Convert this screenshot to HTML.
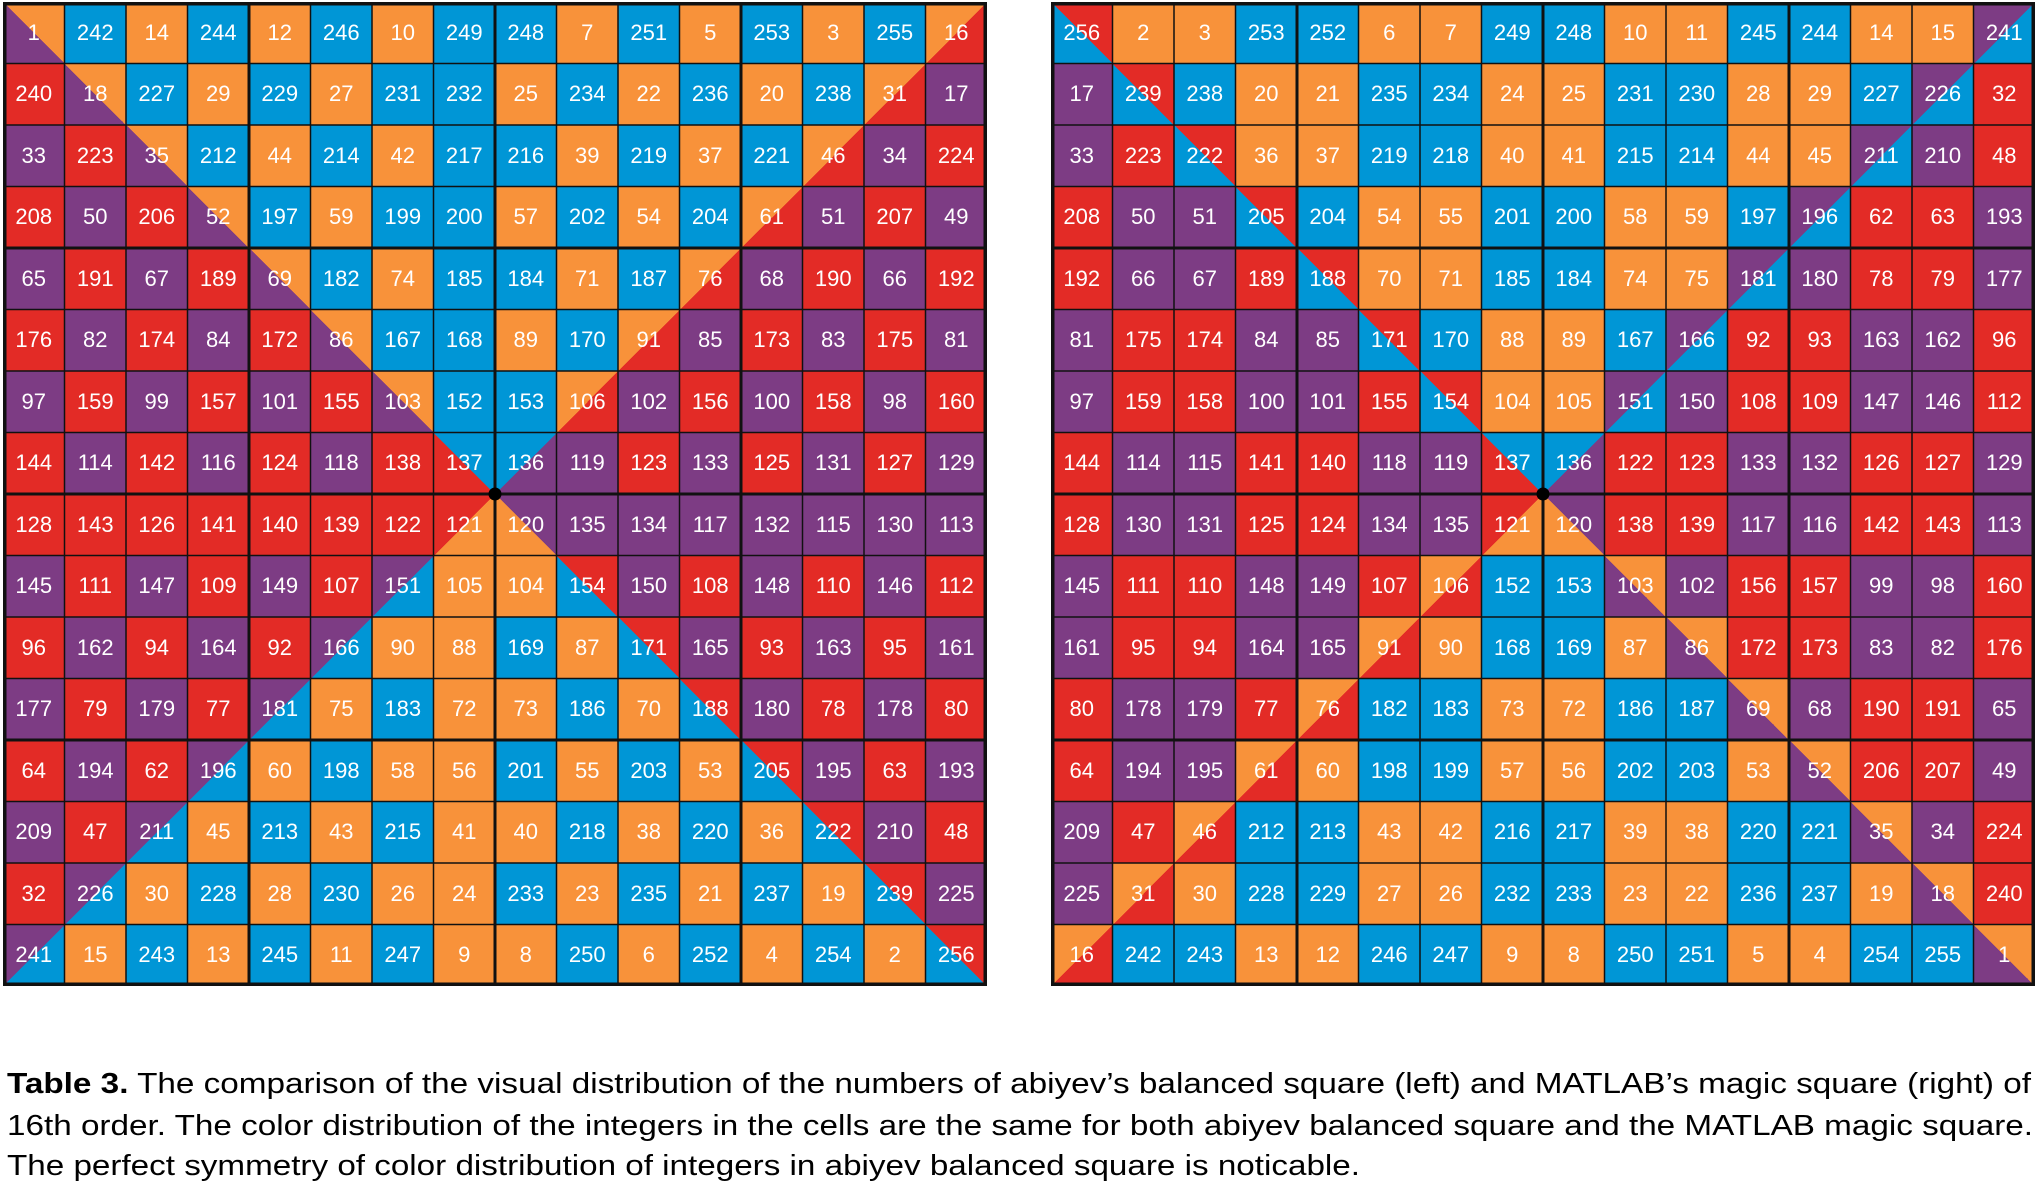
<!DOCTYPE html>
<html><head><meta charset="utf-8"><style>
*{margin:0;padding:0;box-sizing:border-box}
body{width:2039px;height:1187px;background:#fff;position:relative;overflow:hidden;font-family:"Liberation Sans",Arial,sans-serif}
.sq{position:absolute;top:2px;width:984px;height:984px;display:grid;grid-template-columns:repeat(16,61.5px);grid-template-rows:repeat(16,61.5px)}
.sq i{font-style:normal;color:#fff;font-size:22px;display:flex;align-items:center;justify-content:center}
.o{background:#F8923A}.b{background:#0096D6}.r{background:#E32B26}.p{background:#7D3C84}
.d1{background:linear-gradient(to top right,#7D3C84 50%,#F8923A 50%)}
.d2{background:linear-gradient(to top right,#0096D6 50%,#E32B26 50%)}
.d3{background:linear-gradient(to top right,#E32B26 50%,#0096D6 50%)}
.d4{background:linear-gradient(to top right,#F8923A 50%,#7D3C84 50%)}
.a1{background:linear-gradient(to bottom right,#F8923A 50%,#E32B26 50%)}
.a2{background:linear-gradient(to bottom right,#7D3C84 50%,#0096D6 50%)}
.a3{background:linear-gradient(to bottom right,#0096D6 50%,#7D3C84 50%)}
.a4{background:linear-gradient(to bottom right,#E32B26 50%,#F8923A 50%)}
svg.ov{position:absolute;top:2px;width:984px;height:984px}
</style></head><body>
<div class="sq" style="left:3px">
<i class="d1">1</i><i class="b">242</i><i class="o">14</i><i class="b">244</i><i class="o">12</i><i class="b">246</i><i class="o">10</i><i class="b">249</i><i class="b">248</i><i class="o">7</i><i class="b">251</i><i class="o">5</i><i class="b">253</i><i class="o">3</i><i class="b">255</i><i class="a1">16</i>
<i class="r">240</i><i class="d1">18</i><i class="b">227</i><i class="o">29</i><i class="b">229</i><i class="o">27</i><i class="b">231</i><i class="b">232</i><i class="o">25</i><i class="b">234</i><i class="o">22</i><i class="b">236</i><i class="o">20</i><i class="b">238</i><i class="a1">31</i><i class="p">17</i>
<i class="p">33</i><i class="r">223</i><i class="d1">35</i><i class="b">212</i><i class="o">44</i><i class="b">214</i><i class="o">42</i><i class="b">217</i><i class="b">216</i><i class="o">39</i><i class="b">219</i><i class="o">37</i><i class="b">221</i><i class="a1">46</i><i class="p">34</i><i class="r">224</i>
<i class="r">208</i><i class="p">50</i><i class="r">206</i><i class="d1">52</i><i class="b">197</i><i class="o">59</i><i class="b">199</i><i class="b">200</i><i class="o">57</i><i class="b">202</i><i class="o">54</i><i class="b">204</i><i class="a1">61</i><i class="p">51</i><i class="r">207</i><i class="p">49</i>
<i class="p">65</i><i class="r">191</i><i class="p">67</i><i class="r">189</i><i class="d1">69</i><i class="b">182</i><i class="o">74</i><i class="b">185</i><i class="b">184</i><i class="o">71</i><i class="b">187</i><i class="a1">76</i><i class="p">68</i><i class="r">190</i><i class="p">66</i><i class="r">192</i>
<i class="r">176</i><i class="p">82</i><i class="r">174</i><i class="p">84</i><i class="r">172</i><i class="d1">86</i><i class="b">167</i><i class="b">168</i><i class="o">89</i><i class="b">170</i><i class="a1">91</i><i class="p">85</i><i class="r">173</i><i class="p">83</i><i class="r">175</i><i class="p">81</i>
<i class="p">97</i><i class="r">159</i><i class="p">99</i><i class="r">157</i><i class="p">101</i><i class="r">155</i><i class="d1">103</i><i class="b">152</i><i class="b">153</i><i class="a1">106</i><i class="p">102</i><i class="r">156</i><i class="p">100</i><i class="r">158</i><i class="p">98</i><i class="r">160</i>
<i class="r">144</i><i class="p">114</i><i class="r">142</i><i class="p">116</i><i class="r">124</i><i class="p">118</i><i class="r">138</i><i class="d3">137</i><i class="a3">136</i><i class="p">119</i><i class="r">123</i><i class="p">133</i><i class="r">125</i><i class="p">131</i><i class="r">127</i><i class="p">129</i>
<i class="r">128</i><i class="r">143</i><i class="r">126</i><i class="r">141</i><i class="r">140</i><i class="r">139</i><i class="r">122</i><i class="a4">121</i><i class="d4">120</i><i class="p">135</i><i class="p">134</i><i class="p">117</i><i class="p">132</i><i class="p">115</i><i class="p">130</i><i class="p">113</i>
<i class="p">145</i><i class="r">111</i><i class="p">147</i><i class="r">109</i><i class="p">149</i><i class="r">107</i><i class="a2">151</i><i class="o">105</i><i class="o">104</i><i class="d2">154</i><i class="p">150</i><i class="r">108</i><i class="p">148</i><i class="r">110</i><i class="p">146</i><i class="r">112</i>
<i class="r">96</i><i class="p">162</i><i class="r">94</i><i class="p">164</i><i class="r">92</i><i class="a2">166</i><i class="o">90</i><i class="o">88</i><i class="b">169</i><i class="o">87</i><i class="d2">171</i><i class="p">165</i><i class="r">93</i><i class="p">163</i><i class="r">95</i><i class="p">161</i>
<i class="p">177</i><i class="r">79</i><i class="p">179</i><i class="r">77</i><i class="a2">181</i><i class="o">75</i><i class="b">183</i><i class="o">72</i><i class="o">73</i><i class="b">186</i><i class="o">70</i><i class="d2">188</i><i class="p">180</i><i class="r">78</i><i class="p">178</i><i class="r">80</i>
<i class="r">64</i><i class="p">194</i><i class="r">62</i><i class="a2">196</i><i class="o">60</i><i class="b">198</i><i class="o">58</i><i class="o">56</i><i class="b">201</i><i class="o">55</i><i class="b">203</i><i class="o">53</i><i class="d2">205</i><i class="p">195</i><i class="r">63</i><i class="p">193</i>
<i class="p">209</i><i class="r">47</i><i class="a2">211</i><i class="o">45</i><i class="b">213</i><i class="o">43</i><i class="b">215</i><i class="o">41</i><i class="o">40</i><i class="b">218</i><i class="o">38</i><i class="b">220</i><i class="o">36</i><i class="d2">222</i><i class="p">210</i><i class="r">48</i>
<i class="r">32</i><i class="a2">226</i><i class="o">30</i><i class="b">228</i><i class="o">28</i><i class="b">230</i><i class="o">26</i><i class="o">24</i><i class="b">233</i><i class="o">23</i><i class="b">235</i><i class="o">21</i><i class="b">237</i><i class="o">19</i><i class="d2">239</i><i class="p">225</i>
<i class="a2">241</i><i class="o">15</i><i class="b">243</i><i class="o">13</i><i class="b">245</i><i class="o">11</i><i class="b">247</i><i class="o">9</i><i class="o">8</i><i class="b">250</i><i class="o">6</i><i class="b">252</i><i class="o">4</i><i class="b">254</i><i class="o">2</i><i class="d2">256</i>
</div>
<div class="sq" style="left:1051px">
<i class="d2">256</i><i class="o">2</i><i class="o">3</i><i class="b">253</i><i class="b">252</i><i class="o">6</i><i class="o">7</i><i class="b">249</i><i class="b">248</i><i class="o">10</i><i class="o">11</i><i class="b">245</i><i class="b">244</i><i class="o">14</i><i class="o">15</i><i class="a2">241</i>
<i class="p">17</i><i class="d2">239</i><i class="b">238</i><i class="o">20</i><i class="o">21</i><i class="b">235</i><i class="b">234</i><i class="o">24</i><i class="o">25</i><i class="b">231</i><i class="b">230</i><i class="o">28</i><i class="o">29</i><i class="b">227</i><i class="a2">226</i><i class="r">32</i>
<i class="p">33</i><i class="r">223</i><i class="d2">222</i><i class="o">36</i><i class="o">37</i><i class="b">219</i><i class="b">218</i><i class="o">40</i><i class="o">41</i><i class="b">215</i><i class="b">214</i><i class="o">44</i><i class="o">45</i><i class="a2">211</i><i class="p">210</i><i class="r">48</i>
<i class="r">208</i><i class="p">50</i><i class="p">51</i><i class="d2">205</i><i class="b">204</i><i class="o">54</i><i class="o">55</i><i class="b">201</i><i class="b">200</i><i class="o">58</i><i class="o">59</i><i class="b">197</i><i class="a2">196</i><i class="r">62</i><i class="r">63</i><i class="p">193</i>
<i class="r">192</i><i class="p">66</i><i class="p">67</i><i class="r">189</i><i class="d2">188</i><i class="o">70</i><i class="o">71</i><i class="b">185</i><i class="b">184</i><i class="o">74</i><i class="o">75</i><i class="a2">181</i><i class="p">180</i><i class="r">78</i><i class="r">79</i><i class="p">177</i>
<i class="p">81</i><i class="r">175</i><i class="r">174</i><i class="p">84</i><i class="p">85</i><i class="d2">171</i><i class="b">170</i><i class="o">88</i><i class="o">89</i><i class="b">167</i><i class="a2">166</i><i class="r">92</i><i class="r">93</i><i class="p">163</i><i class="p">162</i><i class="r">96</i>
<i class="p">97</i><i class="r">159</i><i class="r">158</i><i class="p">100</i><i class="p">101</i><i class="r">155</i><i class="d2">154</i><i class="o">104</i><i class="o">105</i><i class="a2">151</i><i class="p">150</i><i class="r">108</i><i class="r">109</i><i class="p">147</i><i class="p">146</i><i class="r">112</i>
<i class="r">144</i><i class="p">114</i><i class="p">115</i><i class="r">141</i><i class="r">140</i><i class="p">118</i><i class="p">119</i><i class="d3">137</i><i class="a3">136</i><i class="r">122</i><i class="r">123</i><i class="p">133</i><i class="p">132</i><i class="r">126</i><i class="r">127</i><i class="p">129</i>
<i class="r">128</i><i class="p">130</i><i class="p">131</i><i class="r">125</i><i class="r">124</i><i class="p">134</i><i class="p">135</i><i class="a4">121</i><i class="d4">120</i><i class="r">138</i><i class="r">139</i><i class="p">117</i><i class="p">116</i><i class="r">142</i><i class="r">143</i><i class="p">113</i>
<i class="p">145</i><i class="r">111</i><i class="r">110</i><i class="p">148</i><i class="p">149</i><i class="r">107</i><i class="a1">106</i><i class="b">152</i><i class="b">153</i><i class="d1">103</i><i class="p">102</i><i class="r">156</i><i class="r">157</i><i class="p">99</i><i class="p">98</i><i class="r">160</i>
<i class="p">161</i><i class="r">95</i><i class="r">94</i><i class="p">164</i><i class="p">165</i><i class="a1">91</i><i class="o">90</i><i class="b">168</i><i class="b">169</i><i class="o">87</i><i class="d1">86</i><i class="r">172</i><i class="r">173</i><i class="p">83</i><i class="p">82</i><i class="r">176</i>
<i class="r">80</i><i class="p">178</i><i class="p">179</i><i class="r">77</i><i class="a1">76</i><i class="b">182</i><i class="b">183</i><i class="o">73</i><i class="o">72</i><i class="b">186</i><i class="b">187</i><i class="d1">69</i><i class="p">68</i><i class="r">190</i><i class="r">191</i><i class="p">65</i>
<i class="r">64</i><i class="p">194</i><i class="p">195</i><i class="a1">61</i><i class="o">60</i><i class="b">198</i><i class="b">199</i><i class="o">57</i><i class="o">56</i><i class="b">202</i><i class="b">203</i><i class="o">53</i><i class="d1">52</i><i class="r">206</i><i class="r">207</i><i class="p">49</i>
<i class="p">209</i><i class="r">47</i><i class="a1">46</i><i class="b">212</i><i class="b">213</i><i class="o">43</i><i class="o">42</i><i class="b">216</i><i class="b">217</i><i class="o">39</i><i class="o">38</i><i class="b">220</i><i class="b">221</i><i class="d1">35</i><i class="p">34</i><i class="r">224</i>
<i class="p">225</i><i class="a1">31</i><i class="o">30</i><i class="b">228</i><i class="b">229</i><i class="o">27</i><i class="o">26</i><i class="b">232</i><i class="b">233</i><i class="o">23</i><i class="o">22</i><i class="b">236</i><i class="b">237</i><i class="o">19</i><i class="d1">18</i><i class="r">240</i>
<i class="a1">16</i><i class="b">242</i><i class="b">243</i><i class="o">13</i><i class="o">12</i><i class="b">246</i><i class="b">247</i><i class="o">9</i><i class="o">8</i><i class="b">250</i><i class="b">251</i><i class="o">5</i><i class="o">4</i><i class="b">254</i><i class="b">255</i><i class="d1">1</i>
</div>
<svg class="ov" style="left:3px" viewBox="0 0 984 984">
<g stroke="#111" stroke-width="1.5" fill="none">
<path d="M61.5 0V984M123 0V984M184.5 0V984M307.5 0V984M369 0V984M430.5 0V984M553.5 0V984M615 0V984M676.5 0V984M799.5 0V984M861 0V984M922.5 0V984M0 61.5H984M0 123H984M0 184.5H984M0 307.5H984M0 369H984M0 430.5H984M0 553.5H984M0 615H984M0 676.5H984M0 799.5H984M0 861H984M0 922.5H984"/>
<path stroke-width="3" d="M246 0V984M492 0V984M738 0V984M0 246H984M0 492H984M0 738H984"/>
<rect x="1.5" y="1.5" width="981" height="981" stroke-width="4"/>
</g><circle cx="492" cy="492" r="6.5" fill="#000"/></svg>
<svg class="ov" style="left:1051px" viewBox="0 0 984 984">
<g stroke="#111" stroke-width="1.5" fill="none">
<path d="M61.5 0V984M123 0V984M184.5 0V984M307.5 0V984M369 0V984M430.5 0V984M553.5 0V984M615 0V984M676.5 0V984M799.5 0V984M861 0V984M922.5 0V984M0 61.5H984M0 123H984M0 184.5H984M0 307.5H984M0 369H984M0 430.5H984M0 553.5H984M0 615H984M0 676.5H984M0 799.5H984M0 861H984M0 922.5H984"/>
<path stroke-width="3" d="M246 0V984M492 0V984M738 0V984M0 246H984M0 492H984M0 738H984"/>
<rect x="1.5" y="1.5" width="981" height="981" stroke-width="4"/>
</g><circle cx="492" cy="492" r="6.5" fill="#000"/></svg>
<svg style="position:absolute;left:0;top:1040px" width="2039" height="147" viewBox="0 1040 2039 147">
<g font-family="Liberation Sans, Arial, sans-serif" font-size="29" fill="#000">
<text x="7" y="1093" textLength="2024" lengthAdjust="spacingAndGlyphs"><tspan font-weight="bold">Table 3.</tspan> The comparison of the visual distribution of the numbers of abiyev’s balanced square (left) and MATLAB’s magic square (right) of</text>
<text x="7" y="1135" textLength="2026" lengthAdjust="spacingAndGlyphs">16th order. The color distribution of the integers in the cells are the same for both abiyev balanced square and the MATLAB magic square.</text>
<text x="7" y="1175" textLength="1353" lengthAdjust="spacingAndGlyphs">The perfect symmetry of color distribution of integers in abiyev balanced square is noticable.</text>
</g></svg>
</body></html>
